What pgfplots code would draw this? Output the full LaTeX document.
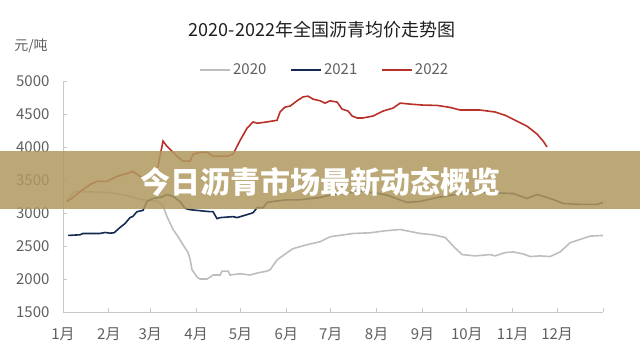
\documentclass[border=0pt]{standalone}
\usepackage{pgfplots}
\pgfplotsset{compat=1.18}
\usepackage{fontspec}
\setmainfont{Noto Sans CJK SC}
\definecolor{c2020}{RGB}{190,190,190}
\definecolor{c2021}{RGB}{20,42,82}
\definecolor{c2022}{RGB}{185,48,40}
\definecolor{axgray}{RGB}{200,200,200}
\definecolor{txtgray}{RGB}{95,95,95}
\definecolor{titlec}{RGB}{30,30,30}
\definecolor{banner}{RGB}{176,153,94}
\begin{document}
\begin{tikzpicture}
\useasboundingbox (0,0) rectangle (640pt,362pt);
\begin{axis}[
  at={(63pt,50pt)}, anchor=south west,
  scale only axis, width=540pt, height=231pt,
  xmin=0, xmax=365, ymin=1500, ymax=5000,
  axis x line*=bottom, axis y line*=left,
  axis line style={axgray, line width=1pt},
  xtick={0,31,59,90,120,151,181,212,243,273,304,334,365},
  xticklabels={1月,2月,3月,4月,5月,6月,7月,8月,9月,10月,11月,12月,{}},
  ytick={1500,2000,2500,3000,3500,4000,4500,5000},
  tick align=inside, major tick length=4pt,
  tick style={axgray, line width=0.8pt},
  ticklabel style={font=\fontsize{15}{17}\selectfont, text=txtgray},
  /pgf/number format/assume math mode=true,
  /pgf/number format/1000 sep={},
  yticklabel style={xshift=-10pt},
  xticklabel style={yshift=-12pt},
  legend columns=3,
  legend style={at={(axis description cs:0.485,1.048)}, anchor=center, draw=none, fill=none,
    font=\fontsize{15}{17}\selectfont, text=txtgray,
    /tikz/every even column/.append style={column sep=22pt}},
  legend image code/.code={\draw[#1] (0pt,0pt) -- (30pt,0pt);},
]
\addplot[c2020, line width=1.6pt] coordinates {
(2.7,3205) (8.1,3326) (18.3,3320) (31.8,3310) (43.3,3265) (47.3,3235) (54.1,3200) (63.6,3175)
(67.6,3110) (70.3,2945) (74.4,2750) (77.8,2640) (81.1,2520) (84.5,2400) (85.9,2300) (87.2,2140)
(90.6,2030) (92.6,2000) (97.4,2000) (101.4,2060) (106.2,2060) (107.5,2120) (111.6,2120)
(112.9,2060) (119.7,2080) (126.4,2060) (131.2,2090) (137.9,2120) (140.0,2140) (144.7,2290)
(151.5,2400) (155.5,2460) (165.0,2520) (173.8,2565) (180.5,2640) (196.1,2690) (207.6,2700)
(217.7,2730) (227.9,2750) (234.6,2720) (241.4,2690) (250.2,2670) (258.3,2630) (265.0,2470)
(269.8,2370) (278.6,2350) (288.7,2370) (292.1,2350) (298.9,2400) (304.3,2410) (311.0,2380)
(315.8,2340) (322.5,2350) (329.3,2340) (336.0,2410) (342.8,2550) (349.6,2600) (356.3,2650) (365,2660)
};
\addlegendentry{2020}
\addplot[c2021, line width=1.6pt] coordinates {
(3.4,2660) (11.5,2670) (13.5,2690) (25.0,2690) (28.4,2705) (31.8,2695) (34.5,2700) (38.5,2780)
(41.9,2840) (45.3,2930) (47.3,2950) (50.0,3020) (54.1,3040) (56.8,3175) (60.9,3220) (65.6,3235)
(67.6,3250) (70.3,3280) (74.4,3250) (79.1,3175) (82.5,3070) (85.9,3050) (99.4,3020) (101.4,3020)
(104.1,2915) (106.2,2930) (114.9,2945) (117.6,2930) (124.4,2975) (128.5,3005) (131.2,3080)
(135.2,3080) (137.9,3160) (142.0,3175) (151.5,3200) (160.2,3200) (173.8,3235) (179.2,3265)
(190.7,3300) (202.8,3330) (212.3,3300) (219.1,3270) (232.6,3160) (241.4,3175) (252.9,3235)
(270.5,3300) (279.9,3320) (290.7,3305) (304.3,3295) (313.7,3220) (320.5,3280) (331.3,3205)
(338.1,3145) (349.6,3130) (361.0,3130) (365,3160)
};
\addlegendentry{2021}
\addplot[c2022, line width=1.6pt] coordinates {
(2.7,3175) (6.8,3235) (11.5,3325) (18.3,3430) (23.0,3480) (29.7,3480) (36.5,3555) (45.3,3615)
(47.3,3630) (52.1,3555) (56.8,3525) (60.9,3585) (64.2,3705) (67.6,4090) (70.3,4010) (72.3,3965)
(77.1,3860) (81.1,3785) (85.9,3785) (87.9,3890) (92.6,3920) (97.4,3920) (101.4,3860) (110.9,3860)
(114.9,3890) (119.7,4100) (124.4,4285) (128.5,4380) (131.2,4360) (137.9,4380) (144.7,4405)
(146.7,4530) (150.1,4605) (153.5,4620) (158.2,4700) (162.3,4760) (165.7,4770) (169.0,4725)
(173.8,4700) (177.1,4665) (180.5,4700) (185.3,4680) (188.6,4575) (192.7,4545) (195.4,4470)
(198.8,4440) (202.8,4440) (209.6,4470) (216.4,4545) (223.1,4590) (227.9,4665) (234.6,4650)
(243.4,4635) (252.9,4630) (261.7,4600) (268.4,4560) (281.9,4560) (292.1,4530) (298.9,4480)
(304.3,4420) (313.7,4315) (320.5,4195) (324.5,4090) (327.2,4000)
};
\addlegendentry{2022}
\end{axis}
\node[font=\fontsize{18}{20}\selectfont, text=titlec] at (322pt,332pt) {2020-2022年全国沥青均价走势图};
\node[font=\fontsize{14}{16}\selectfont, text=txtgray] at (31pt,316pt) {元/吨};
\fill[banner, fill opacity=0.85] (0pt,153pt) rectangle (640pt,211pt);
\node[text=white, font=\fontsize{30}{32}\selectfont\bfseries] at (320pt,180pt) {今日沥青市场最新动态概览};
\end{tikzpicture}
\end{document}
